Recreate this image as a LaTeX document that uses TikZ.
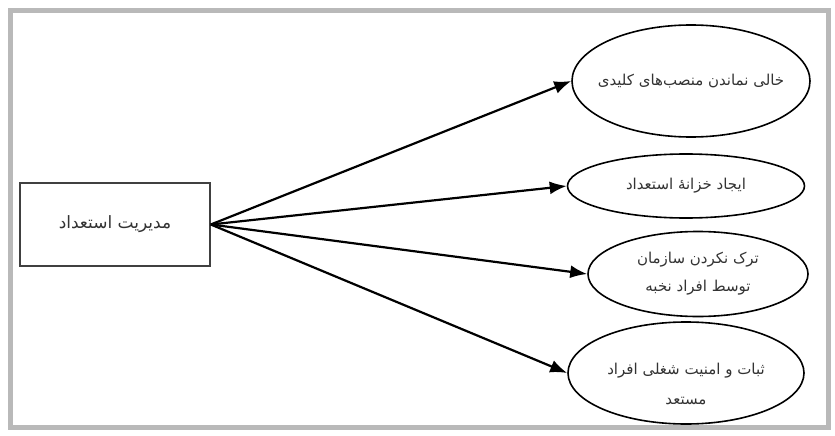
\documentclass[tikz,border=0pt]{standalone}
\usepackage{fontspec}
\newfontfamily\arabicfont[Script=Arabic]{DejaVu Sans}
\TeXXeTstate=1
\usetikzlibrary{shapes.geometric,arrows.meta}
\begin{document}
\begin{tikzpicture}[x=1pt,y=-1pt,
  frameline/.style={draw=gray!55,line width=5pt},
  mainbox/.style={draw=black!75,line width=1.6pt,minimum width=190pt,minimum height=83pt,inner sep=0pt,text=black!80,font=\arabicfont\fontsize{17}{20}\selectfont},
  goal/.style={ellipse,draw=black,line width=1.6pt,inner sep=0pt,align=center,text=black!80,font=\arabicfont\fontsize{15}{28}\selectfont},
  link/.style={-{Latex[length=17pt,width=13pt]},line width=2.2pt,black}]
\useasboundingbox (0,0) rectangle (835,436);
\fill[white] (0,0) rectangle (835,436);
\draw[frameline] (10,11) rectangle (828,427);
\node[mainbox] (box) at (115,224.5) {\beginR مدیریت استعداد\endR};
\node[goal,inner xsep=-20pt,minimum width=238pt,minimum height=112pt] (e1) at (691,81) {\beginR خالی نماندن منصب‌های کلیدی\endR};
\node[goal,minimum width=237pt,minimum height=64pt] (e2) at (686,186) {\beginR ایجاد خزانهٔ استعداد\endR};
\node[goal,minimum width=220pt,minimum height=85pt] (e3) at (698,274) {\beginR ترک نکردن سازمان\endR\\\beginR توسط افراد نخبه\endR};
\node[goal,inner ysep=-12pt,minimum width=236pt,minimum height=102pt,font=\arabicfont\fontsize{15}{30}\selectfont] (e4) at (686,373) {\rule{0pt}{34pt}\beginR ثبات و امنیت شغلی افراد\endR\\\beginR مستعد\endR};
\coordinate (src) at (box.east);
\draw[link] (src) -- (e1.west);
\draw[link] (src) -- (e2.west);
\draw[link] (src) -- (e3.west);
\draw[link] (src) -- (e4.west);
\end{tikzpicture}
\end{document}
